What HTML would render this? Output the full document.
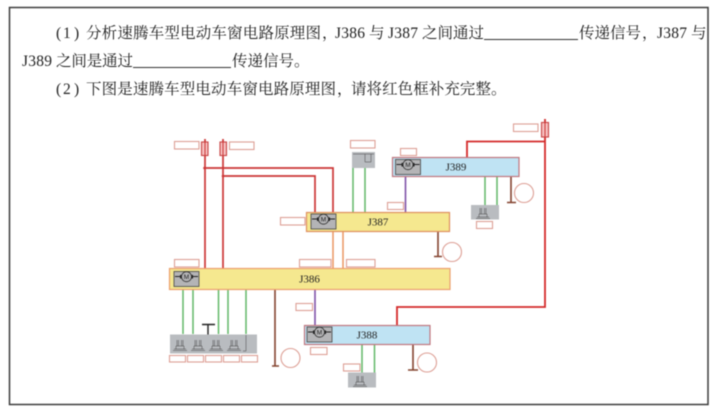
<!DOCTYPE html>
<html><head><meta charset="utf-8"><style>
html,body{margin:0;padding:0;background:#fff;width:716px;height:414px;overflow:hidden}
svg{display:block;filter:blur(.4px)}
.t{font-family:"Liberation Serif","Noto Serif CJK SC",serif;font-size:15.5px;fill:#222;font-feature-settings:"liga" 0,"calt" 0,"ccmp" 0}
.j{font-family:"Liberation Serif",serif;font-size:11px;fill:#222;text-anchor:middle}
.l{fill:#fff;stroke:#dd9f95;stroke-width:1.1}
.r{stroke:#cc3636;stroke-width:1.7;fill:none}
.g{stroke:#62b868;stroke-width:1.5;fill:none}
.b{stroke:#84432f;stroke-width:1.6;fill:none}
.o{stroke:#ea8f58;stroke-width:1.4;fill:none}
.p{stroke:#7f52a8;stroke-width:1.6;fill:none}
.c{fill:#fff;stroke:#dd9f95;stroke-width:1.1}
.gr{fill:#b9bcc0}
.m{fill:#b4b4b6;stroke:#444;stroke-width:.8}
.d{stroke:#444;stroke-width:.5;fill:none}
</style></head><body>
<svg width="716" height="414" viewBox="0 0 716 414" xmlns="http://www.w3.org/2000/svg">
<defs>
<g id="mot">
<rect class="m" x="0" y="0" width="25" height="15"/>
<path d="M1 5H7M18 5H24" stroke="#222" stroke-width="1" fill="none"/>
<rect x="6" y="3.4" width="13" height="3.6" fill="#222"/>
<circle cx="12.500" cy="5.200" r="5" fill="#b4b4b6" stroke="#333" stroke-width=".8"/>
<text x="12.500" y="7.600" font-family="Liberation Sans,sans-serif" font-size="6.500" text-anchor="middle" fill="#222">M</text>
</g>
<g id="sw"><path class="d" d="M3 12H15M5 12V9H13V12M6 9V3M7.500 9V3M10.500 9V3M12 9V3M2 13.500H16"/></g>
</defs>
<rect width="716" height="414" fill="#fff"/>
<rect x="9.500" y="7.500" width="698.500" height="397" fill="none" stroke="#3c3c3c" stroke-width="1.500"/>

<text class="t" x="56" y="38">(</text>
<text class="t" x="63" y="38">1</text>
<text class="t" x="74" y="38">)</text>
<text class="t" x="86" y="38" textLength="235">分析速腾车型电动车窗电路原理图</text>
<text class="t" x="322" y="38">，</text>
<text class="t" x="335" y="38" textLength="30">J386</text>
<text class="t" x="369" y="38" textLength="15">与</text>
<text class="t" x="388" y="38" textLength="30">J387</text>
<text class="t" x="422" y="38" textLength="62">之间通过</text>
<path d="M484 39.500H578" stroke="#333" stroke-width=".9"/>
<text class="t" x="579" y="38" textLength="62">传递信号</text>
<text class="t" x="642" y="38">，</text>
<text class="t" x="657" y="38" textLength="30">J387</text>
<text class="t" x="691" y="38" textLength="15">与</text>

<text class="t" x="22" y="66" textLength="30">J389</text>
<text class="t" x="56" y="66" textLength="77">之间是通过</text>
<path d="M133 67.500H231" stroke="#333" stroke-width=".9"/>
<text class="t" x="232" y="66" textLength="62">传递信号</text>
<text class="t" x="294" y="66">。</text>

<text class="t" x="56" y="94">(</text>
<text class="t" x="63" y="94">2</text>
<text class="t" x="74" y="94">)</text>
<text class="t" x="86" y="94" textLength="250">下图是速腾车型电动车窗电路原理图</text>
<text class="t" x="337" y="94">，</text>
<text class="t" x="351" y="94" textLength="140">请将红色框补充完整</text>
<text class="t" x="491" y="94">。</text>

<!-- red wires -->
<path class="r" d="M205 139V268M223 139V268M204 168H333V212M223 176H315V212"/>
<path d="M545 119V307H397V325M467 172V141.500H545" stroke="#d42a2a" stroke-width="1.800" fill="none"/>
<circle cx="204.500" cy="168" r="1.300" fill="#cc3636"/><circle cx="223" cy="176" r="1.300" fill="#cc3636"/>
<rect x="201.500" y="142" width="6.500" height="13.500" fill="#f6c0c0" stroke="#c84444" stroke-width="1.100"/>
<rect x="220" y="142" width="6.500" height="13.500" fill="#f6c0c0" stroke="#c84444" stroke-width="1.100"/>
<rect x="541.500" y="122.500" width="7" height="14.500" fill="#f6c0c0" stroke="#c84444" stroke-width="1.100"/>
<path d="M205 139V155M223 139V155M545 120V137" stroke="#cc3636" stroke-width="1" fill="none"/>

<!-- other wires -->
<path class="o" d="M333 231V268M343 231V268"/>
<path class="g" d="M353 168V212M365 168V212M485 177V205M497 177V205M183 289V334M193 289V334M218.500 289V334M228 289V334M246 289V334M362 344V373M374.500 344V373"/>
<path class="p" d="M405.500 176V212M315 289V325"/>
<path class="b" d="M511 177V202.500M507 202.500H516M438 231V256.500M434 256.500H442M275 289V366M272 366H279M413 344V370M408 370H418"/>
<path d="M208 325V335M202 324.500H215" stroke="#222" stroke-width="1.400" fill="none"/>

<!-- modules -->
<rect x="306.500" y="212.500" width="143" height="19" fill="#f5e88f" stroke="#df8f5e" stroke-width="1.200"/>
<rect x="169.500" y="268.500" width="280.500" height="21" fill="#f5e88f" stroke="#ec9f6e" stroke-width="1.200"/>
<rect x="392.500" y="157.500" width="126.500" height="19" fill="#bfe3f3" stroke="#c0767e" stroke-width="1.200"/>
<rect x="304.500" y="325.500" width="125.500" height="19" fill="#bfe3f3" stroke="#c0767e" stroke-width="1.200"/>
<use href="#mot" x="311" y="214"/>
<use href="#mot" x="174" y="271.500"/>
<use href="#mot" x="395.500" y="159.500"/>
<use href="#mot" x="307" y="327"/>
<text class="j" x="378" y="225.500">J387</text>
<text class="j" x="309.500" y="282.500">J386</text>
<text class="j" x="456" y="170.500">J389</text>
<text class="j" x="367" y="338.500">J388</text>

<!-- grey switch blocks -->
<rect class="gr" x="170" y="334.500" width="87" height="19"/>
<use href="#sw" x="171" y="337"/><use href="#sw" x="189" y="337"/><use href="#sw" x="207" y="337"/><use href="#sw" x="225" y="337"/>
<path class="d" d="M246 335V351H243"/>
<rect class="gr" x="352" y="152" width="23" height="16"/>
<path class="d" d="M353 154H374M365 154V162H371V154"/>
<rect class="gr" x="471" y="205" width="28" height="14.500"/>
<use href="#sw" x="474" y="205"/>
<rect class="gr" x="348" y="372.500" width="28" height="15"/>
<use href="#sw" x="351" y="373"/>

<!-- empty label boxes -->
<rect class="l" x="174.500" y="141.500" width="24.500" height="7.500"/>
<rect class="l" x="229.500" y="142" width="24.500" height="7.500"/>
<rect class="l" x="280.500" y="217.500" width="24.500" height="7.500"/>
<rect class="l" x="350.500" y="140.500" width="24.500" height="7.500"/>
<rect class="l" x="513.500" y="124" width="24.500" height="7.500"/>
<rect class="l" x="400.500" y="148.500" width="16" height="7"/>
<rect class="l" x="387.500" y="202.500" width="16" height="7"/>
<rect class="l" x="476.500" y="221.500" width="16" height="7"/>
<rect class="l" x="299.500" y="259.500" width="31.500" height="7.500"/>
<rect class="l" x="346.500" y="259.500" width="28.500" height="7.500"/>
<rect class="l" x="174.500" y="259.500" width="24.500" height="7.500"/>
<rect class="l" x="296" y="303.500" width="16.500" height="7"/>
<rect class="l" x="310.500" y="347.500" width="16.500" height="7"/>
<rect class="l" x="343.500" y="364" width="16.500" height="7"/>
<rect class="l" x="169.500" y="355.500" width="16" height="6.500"/>
<rect class="l" x="187.500" y="355.500" width="16" height="6.500"/>
<rect class="l" x="205.500" y="355.500" width="16" height="6.500"/>
<rect class="l" x="223.500" y="355.500" width="16" height="6.500"/>
<rect class="l" x="241.500" y="355.500" width="16" height="6.500"/>

<!-- circles -->
<circle class="c" cx="524" cy="193" r="9.500"/>
<circle class="c" cx="452" cy="252" r="9.500"/>
<circle class="c" cx="290.500" cy="358" r="9.500"/>
<circle class="c" cx="427" cy="362.500" r="9.500"/>
</svg>
</body></html>
